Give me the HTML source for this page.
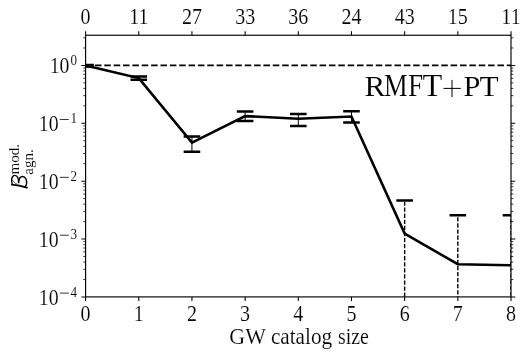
<!DOCTYPE html><html><head><meta charset="utf-8"><style>html,body{margin:0;padding:0;background:#fff;}svg{display:block;will-change:transform;filter:grayscale(1)}text{font-family:"Liberation Serif",serif;fill:#000;stroke:#fff;stroke-width:0.14px}</style></head><body>
<svg width="529" height="356" viewBox="0 0 529 356">
<rect width="529" height="356" fill="#fff"/>
<defs><clipPath id="c"><rect x="85.60" y="35.25" width="425.40" height="261.65"/></clipPath></defs>
<path d="M85.60 296.90v4M85.60 35.25v-4M138.77 296.90v4M138.77 35.25v-4M191.95 296.90v4M191.95 35.25v-4M245.12 296.90v4M245.12 35.25v-4M298.30 296.90v4M298.30 35.25v-4M351.48 296.90v4M351.48 35.25v-4M404.65 296.90v4M404.65 35.25v-4M457.82 296.90v4M457.82 35.25v-4M511.00 296.90v4M511.00 35.25v-4M85.60 65.40h-4.2M511.00 65.40h4.2M85.60 123.28h-4.2M511.00 123.28h4.2M85.60 181.15h-4.2M511.00 181.15h4.2M85.60 239.03h-4.2M511.00 239.03h4.2M85.60 296.90h-4.2M511.00 296.90h4.2" stroke="#000" stroke-width="1.05" fill="none"/>
<path d="M85.60 47.98h-2.3M511.00 47.98h2.3M85.60 37.79h-2.3M511.00 37.79h2.3M85.60 105.85h-2.3M511.00 105.85h2.3M85.60 95.66h-2.3M511.00 95.66h2.3M85.60 88.43h-2.3M511.00 88.43h2.3M85.60 82.82h-2.3M511.00 82.82h2.3M85.60 78.24h-2.3M511.00 78.24h2.3M85.60 74.36h-2.3M511.00 74.36h2.3M85.60 71.01h-2.3M511.00 71.01h2.3M85.60 68.05h-2.3M511.00 68.05h2.3M85.60 163.73h-2.3M511.00 163.73h2.3M85.60 153.54h-2.3M511.00 153.54h2.3M85.60 146.31h-2.3M511.00 146.31h2.3M85.60 140.70h-2.3M511.00 140.70h2.3M85.60 136.11h-2.3M511.00 136.11h2.3M85.60 132.24h-2.3M511.00 132.24h2.3M85.60 128.88h-2.3M511.00 128.88h2.3M85.60 125.92h-2.3M511.00 125.92h2.3M85.60 221.60h-2.3M511.00 221.60h2.3M85.60 211.41h-2.3M511.00 211.41h2.3M85.60 204.18h-2.3M511.00 204.18h2.3M85.60 198.57h-2.3M511.00 198.57h2.3M85.60 193.99h-2.3M511.00 193.99h2.3M85.60 190.11h-2.3M511.00 190.11h2.3M85.60 186.76h-2.3M511.00 186.76h2.3M85.60 183.80h-2.3M511.00 183.80h2.3M85.60 279.48h-2.3M511.00 279.48h2.3M85.60 269.29h-2.3M511.00 269.29h2.3M85.60 262.06h-2.3M511.00 262.06h2.3M85.60 256.45h-2.3M511.00 256.45h2.3M85.60 251.86h-2.3M511.00 251.86h2.3M85.60 247.99h-2.3M511.00 247.99h2.3M85.60 244.63h-2.3M511.00 244.63h2.3M85.60 241.67h-2.3M511.00 241.67h2.3" stroke="#000" stroke-width="0.8" fill="none"/>
<g clip-path="url(#c)">
<path d="M85.60 65.40H511.00" stroke="#000" stroke-width="1.9" stroke-dasharray="6.53 2.83" fill="none"/>
<path d="M404.65 298.90V200.50" stroke="#000" stroke-width="1.4" stroke-dasharray="4.3 1.77" stroke-dashoffset="4.00" fill="none"/>
<path d="M457.82 298.90V215.20" stroke="#000" stroke-width="1.4" stroke-dasharray="4.3 1.77" stroke-dashoffset="1.60" fill="none"/>
<path d="M511.00 298.90V215.35" stroke="#000" stroke-width="1.4" stroke-dasharray="4.3 1.77" stroke-dashoffset="3.20" fill="none"/>
<path d="M85.60 64.90V66.50M138.77 76.40V79.80M191.95 136.40V151.70M245.12 111.50V121.05M298.30 113.95V125.90M351.48 111.20V122.50" stroke="#000" stroke-width="1.0" fill="none"/>
<path d="M77.30 64.90h16.6M77.30 66.50h16.6M130.47 76.40h16.6M130.47 79.80h16.6M183.65 136.40h16.6M183.65 151.70h16.6M236.82 111.50h16.6M236.82 121.05h16.6M290.00 113.95h16.6M290.00 125.90h16.6M343.18 111.20h16.6M343.18 122.50h16.6M396.35 200.50h16.6M449.52 215.20h16.6M502.70 215.35h16.6" stroke="#000" stroke-width="2.5" fill="none"/>
<path d="M85.60 65.40 L138.77 78.10 L191.95 142.60 L245.12 116.10 L298.30 118.70 L351.48 116.50 L404.65 233.60 L457.82 264.25 L511.00 265.30" stroke="#000" stroke-width="2.6" stroke-linejoin="miter" fill="none"/>
</g>
<rect x="85.60" y="35.25" width="425.40" height="261.65" fill="none" stroke="#000" stroke-width="1.15"/>
<text transform="translate(85.60,23.50) scale(0.870,1)" font-size="23.00" text-anchor="middle">0</text>
<text transform="translate(85.60,320.80) scale(0.870,1)" font-size="23.00" text-anchor="middle">0</text>
<text transform="translate(138.77,23.50) scale(0.870,1)" font-size="23.00" text-anchor="middle">11</text>
<text transform="translate(138.77,320.80) scale(0.870,1)" font-size="23.00" text-anchor="middle">1</text>
<text transform="translate(191.95,23.50) scale(0.870,1)" font-size="23.00" text-anchor="middle">27</text>
<text transform="translate(191.95,320.80) scale(0.870,1)" font-size="23.00" text-anchor="middle">2</text>
<text transform="translate(245.12,23.50) scale(0.870,1)" font-size="23.00" text-anchor="middle">33</text>
<text transform="translate(245.12,320.80) scale(0.870,1)" font-size="23.00" text-anchor="middle">3</text>
<text transform="translate(298.30,23.50) scale(0.870,1)" font-size="23.00" text-anchor="middle">36</text>
<text transform="translate(298.30,320.80) scale(0.870,1)" font-size="23.00" text-anchor="middle">4</text>
<text transform="translate(351.48,23.50) scale(0.870,1)" font-size="23.00" text-anchor="middle">24</text>
<text transform="translate(351.48,320.80) scale(0.870,1)" font-size="23.00" text-anchor="middle">5</text>
<text transform="translate(404.65,23.50) scale(0.870,1)" font-size="23.00" text-anchor="middle">43</text>
<text transform="translate(404.65,320.80) scale(0.870,1)" font-size="23.00" text-anchor="middle">6</text>
<text transform="translate(457.82,23.50) scale(0.870,1)" font-size="23.00" text-anchor="middle">15</text>
<text transform="translate(457.82,320.80) scale(0.870,1)" font-size="23.00" text-anchor="middle">7</text>
<text transform="translate(511.00,23.50) scale(0.870,1)" font-size="23.00" text-anchor="middle">11</text>
<text transform="translate(511.00,320.80) scale(0.870,1)" font-size="23.00" text-anchor="middle">8</text>
<text transform="translate(69.40,73.40) scale(0.860,1)" font-size="23.00" text-anchor="end">10</text>
<text transform="translate(77.10,65.40) scale(0.950,1)" font-size="13.80" text-anchor="end" style="stroke-width:0.08px">0</text>
<text transform="translate(58.60,131.28) scale(0.860,1)" font-size="23.00" text-anchor="end">10</text>
<text transform="translate(77.10,123.28) scale(0.950,1)" font-size="13.80" text-anchor="end" style="stroke-width:0.08px">1</text>
<text transform="translate(58.60,189.15) scale(0.860,1)" font-size="23.00" text-anchor="end">10</text>
<text transform="translate(77.10,181.15) scale(0.950,1)" font-size="13.80" text-anchor="end" style="stroke-width:0.08px">2</text>
<text transform="translate(58.60,247.03) scale(0.860,1)" font-size="23.00" text-anchor="end">10</text>
<text transform="translate(77.10,239.03) scale(0.950,1)" font-size="13.80" text-anchor="end" style="stroke-width:0.08px">3</text>
<text transform="translate(58.60,304.90) scale(0.860,1)" font-size="23.00" text-anchor="end">10</text>
<text transform="translate(77.10,296.90) scale(0.950,1)" font-size="13.80" text-anchor="end" style="stroke-width:0.08px">4</text>
<path d="M59.8 119.48H68.8M59.8 177.35H68.8M59.8 235.22H68.8M59.8 293.10H68.8" stroke="#000" stroke-width="0.8" fill="none"/>
<text transform="translate(229.30,343.70) scale(0.975,1)" font-size="22.50" text-anchor="start">GW</text>
<text transform="translate(270.90,343.70) scale(0.943,1)" font-size="22.50" text-anchor="start">catalog</text>
<text transform="translate(338.00,343.70) scale(0.880,1)" font-size="22.50" text-anchor="start">size</text>
<text transform="translate(364.50,95.50) scale(1.025,1)" font-size="30.50" text-anchor="start">R</text>
<text transform="translate(384.00,95.50) scale(0.870,1)" font-size="30.50" text-anchor="start">M</text>
<text transform="translate(408.00,95.50) scale(0.890,1)" font-size="30.50" text-anchor="start">F</text>
<text transform="translate(422.50,95.50) scale(1.064,1)" font-size="30.50" text-anchor="start">T</text>
<text transform="translate(463.40,95.50) scale(0.996,1)" font-size="30.50" text-anchor="start">P</text>
<text transform="translate(479.40,95.50) scale(1.025,1)" font-size="30.50" text-anchor="start">T</text>
<path d="M443.4 88.4H460.8M452.0 79.9V97.0" stroke="#000" stroke-width="1.0" fill="none"/>
<g fill="none" stroke="#000" stroke-linecap="round"><path d="M11.9 184.6Q19 185.2 26.9 187.6" stroke-width="1.9"/><path d="M12.3 184.2C10.8 180.5 11.6 175.6 14.8 175.4C17.6 175.3 18.8 179 18.6 182.6" stroke-width="1.35"/><path d="M18.6 182.6C18.6 178.5 20.5 176.4 22.5 176.5C25.5 176.7 27 180 26.6 183.5C26.4 185.3 25.6 186.4 24.6 186.9" stroke-width="1.45"/><path d="M12.6 180.2C13.5 182 15 183.3 17 184.2" stroke-width="0.7"/></g>
<g transform="translate(27.2,192.5) rotate(-90)"><text x="18.0" y="-7.95" font-size="15.1" style="stroke-width:0.08px">mod.</text><text x="17.8" y="5.4" font-size="15" style="stroke-width:0.08px">agn.</text></g>
</svg></body></html>
